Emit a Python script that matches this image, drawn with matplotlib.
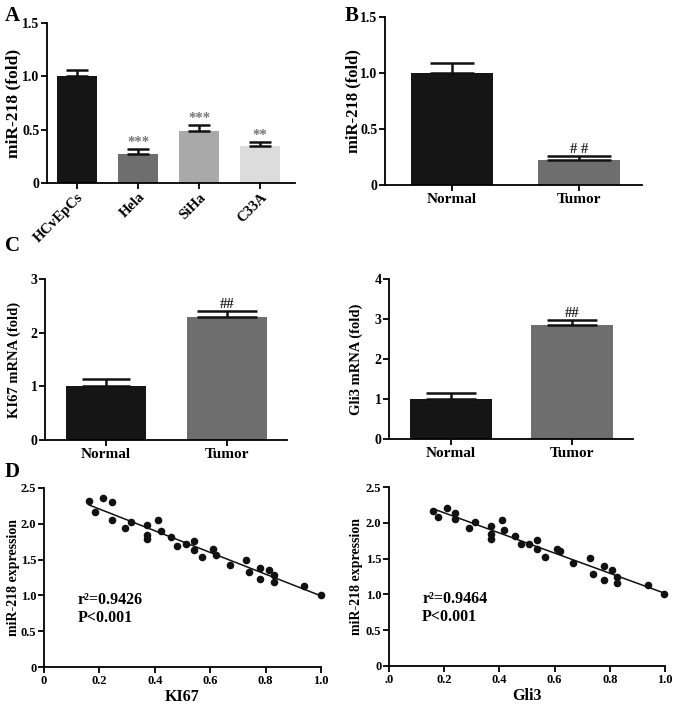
import numpy as np
import matplotlib
matplotlib.use("Agg")
from matplotlib import pyplot as plt

plt.rcParams['font.family'] = ['Liberation Serif', 'DejaVu Serif']
plt.rcParams['font.weight'] = 'bold'
plt.rcParams['axes.labelweight'] = 'bold'

# panel A
cells = ["HCvEpCs", "Hela", "SiHa", "C33A"]
cells_val = [1.0, 0.275, 0.49, 0.35]
cells_err = [0.06, 0.045, 0.05, 0.03]
cells_sig = ["", "***", "***", "**"]

# panel B / C
groups = ["Normal", "Tumor"]
mir_val = [1.0, 0.225]
mir_err = [0.09, 0.035]
ki67_val = [1.0, 2.29]
ki67_err = [0.13, 0.11]
gli3_val = [0.99, 2.85]
gli3_err = [0.15, 0.13]

# panel D
ki67_x = [0.164, 0.184, 0.214, 0.244, 0.244, 0.294, 0.313, 0.373, 0.373, 0.373,
          0.413, 0.422, 0.458, 0.481, 0.513, 0.543, 0.543, 0.570, 0.610, 0.622,
          0.670, 0.730, 0.740, 0.781, 0.781, 0.811, 0.832, 0.832, 0.940, 1.0]
ki67_y = [2.32, 2.16, 2.36, 2.30, 2.06, 1.94, 2.02, 1.98, 1.85, 1.79,
          2.05, 1.90, 1.82, 1.69, 1.72, 1.76, 1.63, 1.53, 1.65, 1.57,
          1.42, 1.49, 1.32, 1.38, 1.23, 1.36, 1.29, 1.19, 1.13, 1.01]
gli3_x = [0.161, 0.179, 0.209, 0.239, 0.239, 0.290, 0.310, 0.369, 0.369, 0.369,
          0.409, 0.418, 0.455, 0.479, 0.508, 0.538, 0.538, 0.567, 0.608, 0.619,
          0.667, 0.728, 0.738, 0.779, 0.779, 0.808, 0.827, 0.827, 0.937, 0.998]
gli3_y = [2.16, 2.08, 2.21, 2.13, 2.05, 1.93, 2.01, 1.95, 1.84, 1.78,
          2.04, 1.90, 1.81, 1.70, 1.71, 1.76, 1.63, 1.52, 1.64, 1.60,
          1.44, 1.51, 1.29, 1.39, 1.20, 1.34, 1.25, 1.16, 1.13, 1.01]

W, H = 677, 705
fig = plt.figure(figsize=(W / 100, H / 100), dpi=100)


def axes_px(x0, y0, x1, y1):
    ax = fig.add_axes([x0 / W, 1 - y1 / H, (x1 - x0) / W, (y1 - y0) / H])
    ax._px = (x0, x1)
    return ax


def ylabel_at(ax, text, fs, xpx):
    # xpx = pixel column of the label's baseline (right side once rotated)
    ax.set_ylabel(text, fontsize=fs)
    x0, x1 = ax._px
    ax.yaxis.set_label_coords((xpx - x0) / (x1 - x0), 0.5)


def style(ax, fs=10):
    for s in ["top", "right"]:
        ax.spines[s].set_visible(False)
    for s in ["left", "bottom"]:
        ax.spines[s].set_linewidth(1.3)
    ax.tick_params(direction="out", width=1.3, length=4, labelsize=fs, pad=1.5)


def bars(ax, labels, vals, errs, colors, width, caps, marks, mark_col, fs):
    x = np.arange(len(vals))
    ax.bar(x, vals, width=width, color=colors, edgecolor="none", zorder=2)
    for i in range(len(vals)):
        ax.errorbar(x[i], vals[i], yerr=[[0], [errs[i]]], fmt="none",
                    ecolor="#111111", elinewidth=1.8, capsize=caps[i],
                    capthick=1.8, zorder=3)
        if marks[i]:
            ax.text(x[i], vals[i] + errs[i], marks[i], ha="center",
                    va="bottom", fontsize=fs, color=mark_col)
    ax.set_xticks(x)
    ax.set_xticklabels(labels)
    style(ax)


# A
axA = axes_px(47, 23, 295, 183)
bars(axA, cells, cells_val, cells_err,
     ["#151515", "#6e6e6e", "#a9a9a9", "#dcdcdc"], 0.65,
     [8, 8, 8, 8], cells_sig, "#777777", 10.5)
axA.set_xlim(-0.49, 3.57)
axA.set_ylim(0, 1.5)
axA.set_yticks([0, 0.5, 1.0, 1.5])
axA.set_yticklabels(["0", "0.5", "1.0", "1.5"])
ylabel_at(axA, "miR-218 (fold)", 12.5, 21)
axA.tick_params(axis="x", labelsize=10.5)
for t in axA.get_xticklabels():
    t.set_rotation(45)
    t.set_ha("right")
    t.set_rotation_mode("anchor")

# B
axB = axes_px(385, 17, 642, 185)
bars(axB, groups, mir_val, mir_err, ["#151515", "#6e6e6e"], 0.65,
     [16, 23], ["", "# #"], "#222222", 10.5)
axB.set_xlim(-0.53, 1.50)
axB.set_ylim(0, 1.5)
axB.set_yticks([0, 0.5, 1.0, 1.5])
axB.set_yticklabels(["0", "0.5", "1.0", "1.5"])
ylabel_at(axB, "miR-218 (fold)", 12, 361)
axB.tick_params(axis="x", labelsize=11)

# C left
axC1 = axes_px(45, 279, 287, 440)
bars(axC1, groups, ki67_val, ki67_err, ["#151515", "#6e6e6e"], 0.66,
     [17.5, 21.5], ["", "##"], "#222222", 10.5)
axC1.set_xlim(-0.504, 1.496)
axC1.set_ylim(0, 3)
axC1.set_yticks([0, 1, 2, 3])
ylabel_at(axC1, "KI67 mRNA (fold)", 10.5, 21)
axC1.tick_params(axis="x", labelsize=11)

# C right
axC2 = axes_px(389, 279, 633, 439)
bars(axC2, groups, gli3_val, gli3_err, ["#151515", "#6e6e6e"], 0.67,
     [18, 18], ["", "##"], "#222222", 10.5)
axC2.set_xlim(-0.512, 1.504)
axC2.set_ylim(0, 4)
axC2.set_yticks([0, 1, 2, 3, 4])
ylabel_at(axC2, "Gli3 mRNA (fold)", 10.5, 363)
axC2.tick_params(axis="x", labelsize=11)


def scatter(ax, xs, ys, xlab, r2, zero_lab, ylx):
    xs = np.array(xs)
    ys = np.array(ys)
    ax.scatter(xs, ys, s=20, color="#111111", zorder=3, clip_on=False)
    k, b = np.polyfit(xs, ys, 1)
    xl = np.array([xs.min(), xs.max()])
    ax.plot(xl, k * xl + b, color="#111111", lw=1.1)
    ax.set_xlim(0, 1.0)
    ax.set_ylim(0, 2.5)
    ax.set_xticks([0, 0.2, 0.4, 0.6, 0.8, 1.0])
    ax.set_xticklabels([zero_lab, "0.2", "0.4", "0.6", "0.8", "1.0"])
    ax.set_yticks([0, 0.5, 1.0, 1.5, 2.0, 2.5])
    ax.set_yticklabels(["0", "0.5", "1.0", "1.5", "2.0", "2.5"])
    ax.set_xlabel(xlab, fontsize=11.5, labelpad=2)
    ylabel_at(ax, "miR-218 expression", 10, ylx)
    style(ax, 9)
    ax.text(0.12, 0.94, r2, fontsize=11.5, va="center")
    ax.text(0.12, 0.68, "P<0.001", fontsize=11.5, va="center")


axD1 = axes_px(44, 488, 321, 667)
scatter(axD1, ki67_x, ki67_y, "KI67", "r\u00b2=0.9426", "0", 20)
axD2 = axes_px(389, 487, 665, 666)
scatter(axD2, gli3_x, gli3_y, "Gli3", "r\u00b2=0.9464", ".0", 363)

for lab, x, y in [("A", 5, 16), ("B", 345, 16), ("C", 5, 246), ("D", 5, 472)]:
    fig.text(x / W, 1 - y / H, lab, fontsize=15, fontweight="bold",
             va="center", ha="left")

fig.savefig("out.png", dpi=100)
